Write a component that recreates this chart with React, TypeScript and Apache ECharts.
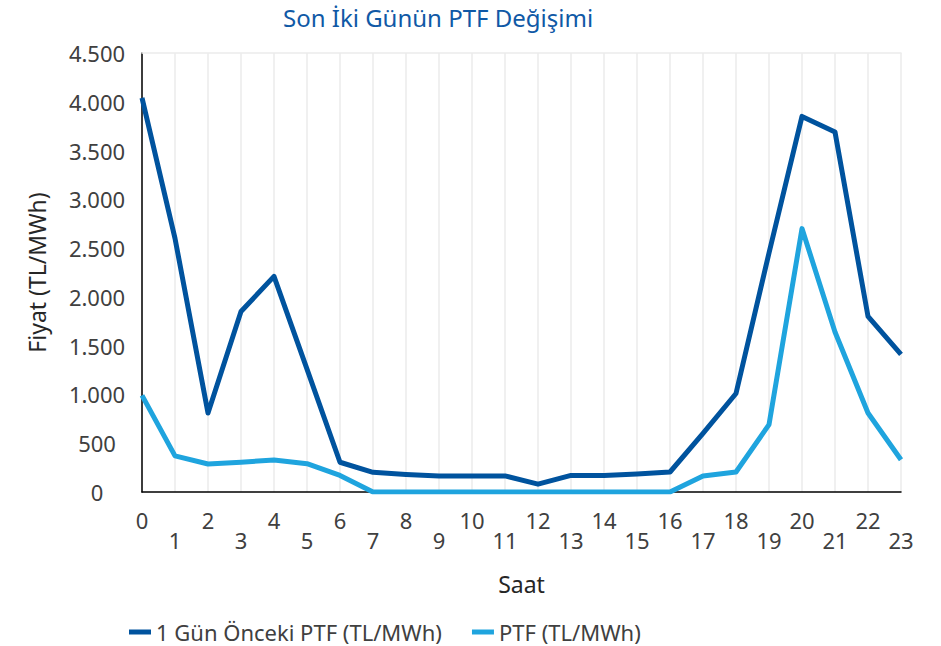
import React, { useEffect, useRef } from "react";
import * as echarts from "echarts";

const hours = ["0","1","2","3","4","5","6","7","8","9","10","11","12","13","14","15","16","17","18","19","20","21","22","23"];
const prevDayPTF = [4040, 2600, 810, 1850, 2210, 1260, 305, 202, 180, 165, 165, 165, 80, 170, 170, 185, 205, 600, 1010, 2450, 3850, 3690, 1800, 1410];
const ptf = [990, 370, 287, 305, 328, 290, 170, 0, 0, 0, 0, 0, 0, 0, 0, 0, 0, 165, 205, 690, 2700, 1640, 810, 330];
const yTicks = { min: 0, max: 4500, interval: 500 };
const seriesNames = ["1 Gün Önceki PTF (TL/MWh)", "PTF (TL/MWh)"];

const FONT = "Noto Sans";

function fmt(v: number): string {
  const s = String(Math.round(v));
  return s.replace(/\B(?=(\d{3})+(?!\d))/g, ".");
}

export default function App() {
  const ref = useRef<HTMLDivElement>(null);
  useEffect(() => {
    if (!ref.current) return;
    const chart = echarts.init(ref.current, null, { renderer: "svg" });
    chart.setOption({
      animation: false,
      textStyle: { fontFamily: FONT },
      title: {
        text: "Son İki Günün PTF Değişimi",
        left: 278,
        top: 0,
        textStyle: { color: "#1059a6", fontSize: 24, fontWeight: "normal", fontFamily: FONT },
      },
      legend: {
        left: 124,
        top: 614,
        padding: [5, 5, 2, 5],
        icon: "rect",
        itemWidth: 22,
        itemHeight: 5,
        itemGap: 30,
        textStyle: { color: "#404040", fontSize: 22, lineHeight: 26, fontFamily: FONT },
        data: seriesNames,
      },
      grid: { left: 142, right: 40, top: 53, bottom: 154, containLabel: false },
      xAxis: [
        {
          type: "category",
          data: hours,
          boundaryGap: false,
          name: "Saat",
          nameLocation: "middle",
          nameGap: 80,
          nameTextStyle: { color: "#262626", fontSize: 23, fontFamily: FONT },
          axisLine: { show: true, lineStyle: { color: "#000000", width: 1.5 } },
          axisTick: { show: false },
          axisLabel: {
            interval: 0,
            margin: 18,
            color: "#404040",
            fontSize: 22,
            lineHeight: 20,
            fontFamily: FONT,
            formatter: (v: string, i: number) => (i % 2 === 1 ? "\n" + v : v),
          },
          splitLine: { show: true, interval: 0, lineStyle: { color: "#ebebeb", width: 1.5 } },
        },
        {
          type: "category",
          data: hours,
          boundaryGap: false,
          position: "top",
          axisLine: { show: true, lineStyle: { color: "#ebebeb", width: 1.5 } },
          axisTick: { show: false },
          axisLabel: { show: false },
          splitLine: { show: false },
        },
      ],
      yAxis: {
        type: "value",
        min: yTicks.min,
        max: yTicks.max,
        interval: yTicks.interval,
        name: "Fiyat (TL/MWh)",
        nameLocation: "middle",
        nameGap: 94,
        nameTextStyle: { color: "#262626", fontSize: 23, fontFamily: FONT },
        axisLine: { show: true, lineStyle: { color: "#000000", width: 1.5 } },
        axisTick: { show: false },
        splitLine: { show: false },
        axisLabel: {
          margin: 45,
          align: "center",
          color: "#404040",
          fontSize: 22,
          fontFamily: FONT,
          formatter: (v: number) => fmt(v),
        },
      },
      series: [
        {
          name: seriesNames[0],
          type: "line",
          data: prevDayPTF,
          symbol: "none",
          lineStyle: { color: "#00539e", width: 5, join: "round" },
          itemStyle: { color: "#00539e" },
          z: 3,
        },
        {
          name: seriesNames[1],
          type: "line",
          data: ptf,
          symbol: "none",
          lineStyle: { color: "#1fa4de", width: 5, join: "round" },
          itemStyle: { color: "#1fa4de" },
          z: 2,
        },
      ],
    });
    return () => chart.dispose();
  }, []);
  return <div ref={ref} style={{ width: 941, height: 646, position: "absolute", left: 0, top: 0 }} />;
}
